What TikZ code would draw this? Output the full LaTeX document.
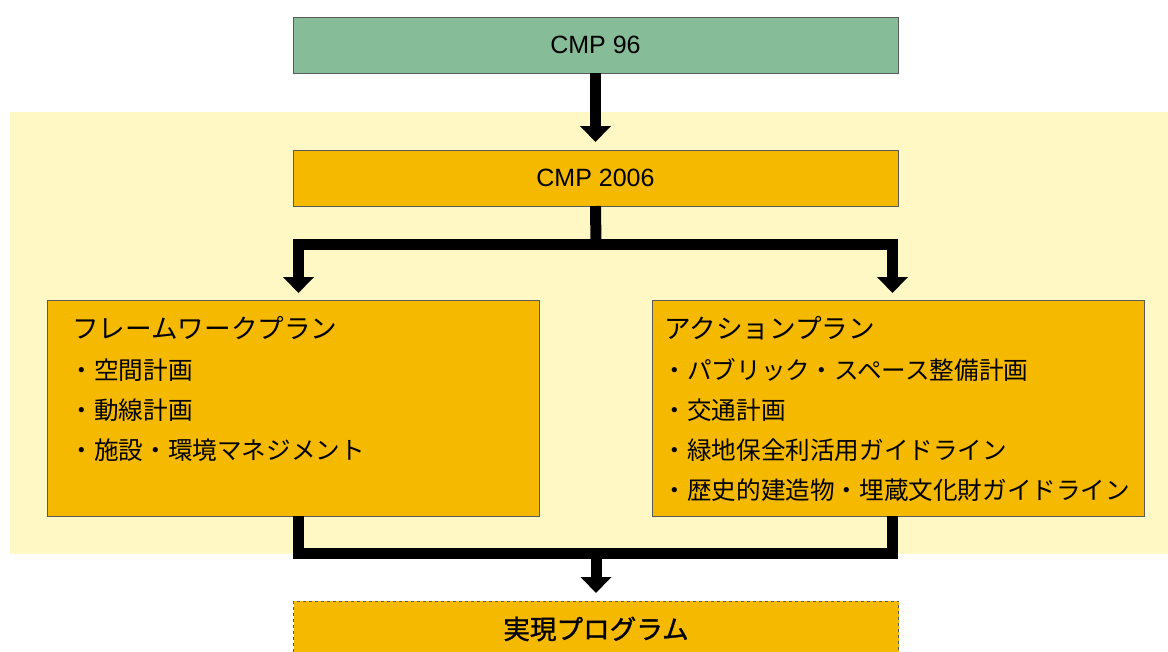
\documentclass[tikz,border=0pt]{standalone}
\usepackage{fontspec}
\setmainfont{Liberation Sans}
\newfontfamily\jp{Noto Sans CJK JP}
\newfontfamily\jpm[FakeBold=1.2]{Noto Sans CJK JP}
\usetikzlibrary{arrows.meta,calc}
\definecolor{cgreen}{HTML}{86BC98}
\definecolor{corange}{HTML}{F5B900}
\definecolor{cbg}{HTML}{FFF8C4}
\definecolor{cborder}{HTML}{5A5A5A}
\tikzset{
  box/.style={rectangle, draw=cborder, line width=1pt, inner sep=0pt, outer sep=0pt},
  wide/.style={box, minimum width=605pt, minimum height=56pt, font=\fontsize{25}{30}\selectfont},
  plan/.style={box, fill=corange, minimum width=492pt, minimum height=216pt},
  ttl/.style={anchor=west, inner sep=0pt, font=\jp\fontsize{26.6}{30}\selectfont},
  itm/.style={anchor=west, inner sep=0pt, font=\jp\fontsize{24.6}{28}\selectfont},
  conn/.style={line width=11pt, line join=miter},
  arr/.style={conn, -{Triangle[width=30pt,length=16pt]}, shorten >=8pt},
}
\begin{document}
\begin{tikzpicture}[x=1pt,y=-1pt]
\useasboundingbox (0,0) rectangle (1168,651);
\fill[cbg] (10,112) rectangle (1168,554);
\node[wide, fill=cgreen] (b1) at (595.5,45) {CMP 96};
\node[wide, fill=corange] (b2) at (595.5,178) {CMP 2006};
\node[plan] (fw) at (293.75,408) {};
\node[plan] (ap) at (898.5,408) {};
\node[wide, fill=corange, dashed, dash pattern=on 3pt off 3pt, font=\jpm\fontsize{26.6}{30}\selectfont] (res) at (596,629) {実現プログラム};
% texts left
\node[ttl] (fwt) at (72,328) {フレームワークプラン};
\node[itm] (fw1) at (69.5,370) {・空間計画};
\node[itm] (fw2) at (69.5,410) {・動線計画};
\node[itm] (fw3) at (69.5,450) {・施設・環境マネジメント};
% texts right
\node[ttl] (apt) at (664,328) {アクションプラン};
\node[itm] (ap1) at (662.5,370) {・パブリック・スペース整備計画};
\node[itm] (ap2) at (662.5,410) {・交通計画};
\node[itm] (ap3) at (662.5,450) {・緑地保全利活用ガイドライン};
\node[itm] (ap4) at (662.5,490) {・歴史的建造物・埋蔵文化財ガイドライン};
% connectors
\coordinate (j1) at (596,244.5);
\coordinate (aL) at (298.5,301);
\coordinate (aR) at (892.5,301);
\coordinate (j2) at (596,553);
\draw[arr] (b1.south) -- (b2.north);
\draw[conn] (b2.south) -- (j1);
\draw[arr] (j1) -| (aL);
\draw[arr] (j1) -| (aR);
\draw[conn] (aL |- fw.south) |- (j2) -| (aR |- ap.south);
\draw[arr] (j2) -- (res.north);
\end{tikzpicture}
\end{document}
